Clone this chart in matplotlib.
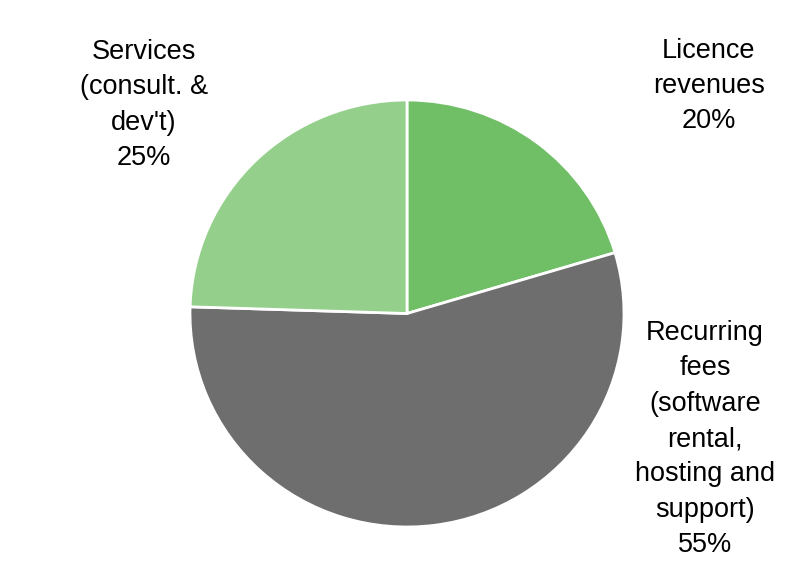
import matplotlib.pyplot as plt

# revenue split
labels = ["Licence\nrevenues", "Recurring\nfees\n(software\nrental,\nhosting and\nsupport)", "Services\n(consult. &\ndev't)"]
pct_text = ["20%", "55%", "25%"]
shares = [20.4, 55.1, 24.5]   # wedge sizes as measured on the picture
colors = ["#70BF66", "#6E6E6E", "#94D08B"]

# label anchor points in pixels (x, y from top)
label_pos = [(709, 86), (705, 439), (144, 105)]

W, H = 800, 581
ys = 217 / 213.5  # pie is slightly wider than tall
fig = plt.figure(figsize=(W / 100, H / 100), dpi=100)
ax = fig.add_axes([0, 0, 1, 1])

ax.pie(shares, colors=colors, startangle=90, counterclock=False,
       center=(407, (H - 313.5) * ys), radius=217,
       wedgeprops=dict(edgecolor="white", linewidth=2))

# pie() resets the limits, so set them afterwards
ax.set_xlim(0, W)
ax.set_ylim(0, H * ys)
ax.set_aspect("auto")
ax.axis("off")

for lab, pct, (x, y) in zip(labels, pct_text, label_pos):
    ax.text(x, (H - y) * ys, f"{lab}\n{pct}", ha="center", va="center",
            fontsize=19.5, family=["Liberation Sans Narrow", "Liberation Sans"],
            linespacing=1.47, color="black")

fig.savefig("out.png", dpi=100)
